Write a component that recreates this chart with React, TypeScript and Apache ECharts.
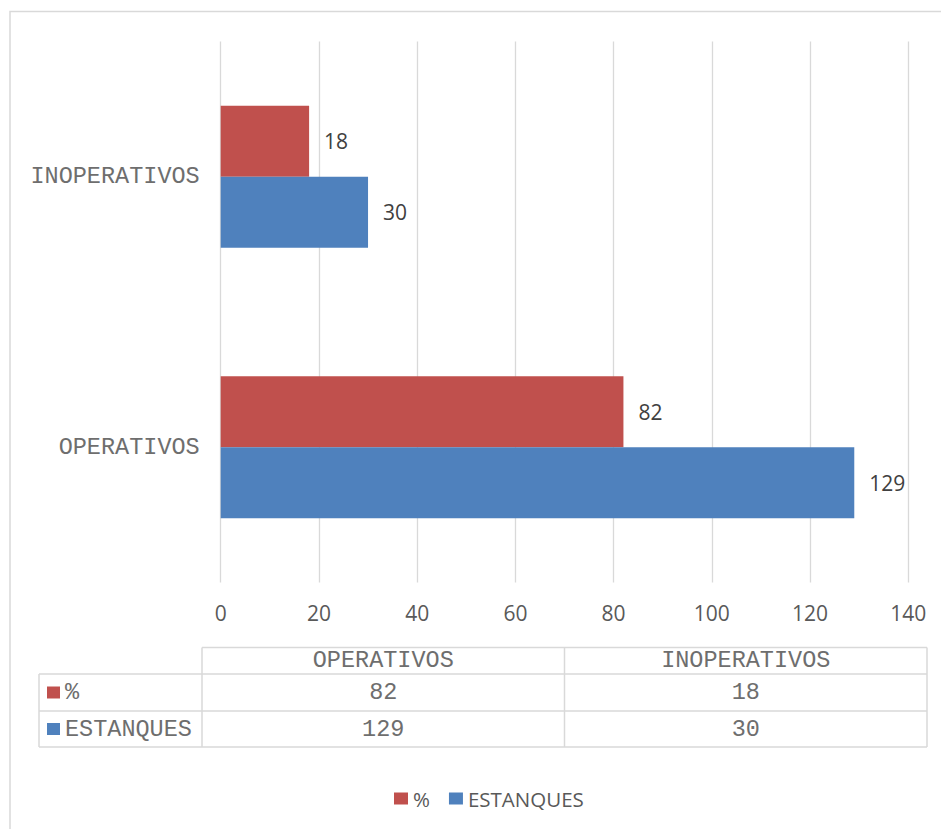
import React, { useEffect, useRef } from "react";
import * as echarts from "echarts";

const categories = ["OPERATIVOS", "INOPERATIVOS"];
const seriesNames = ["%", "ESTANQUES"];
const pctValues = [82, 18];
const estanquesValues = [129, 30];
const seriesColors = ["#C0504D", "#4F81BD"];
const xMin = 0;
const xMax = 140;
const xInterval = 20;

const MONO = "'Liberation Mono', 'Courier New', monospace";
const SANS = "'Open Sans', 'Noto Sans', sans-serif";
const MONO_COLOR = "#6E6E6E";

export default function App() {
  const ref = useRef<HTMLDivElement>(null);
  useEffect(() => {
    if (!ref.current) return;
    const chart = echarts.init(ref.current, null, { renderer: "svg" });
    const allValues = [pctValues, estanquesValues];

    // table layout
    const tLeft = 39;
    const tLabelRight = 202;
    const tRight = 927;
    const rowYs = [647.5, 674, 711, 747];
    const colW = (tRight - tLabelRight) / categories.length;
    const lineStyle = { stroke: "#D9D9D9", lineWidth: 1.5 };
    const graphics: any[] = [];
    graphics.push({
      type: "rect",
      shape: { x: 10, y: 11.5, width: 1000, height: 1000 },
      style: { fill: "none", stroke: "#D9D9D9", lineWidth: 1.5 },
      silent: true,
    });
    graphics.push({ type: "line", shape: { x1: tLabelRight, y1: rowYs[0], x2: tRight, y2: rowYs[0] }, style: lineStyle });
    for (let i = 1; i < rowYs.length; i++) {
      graphics.push({ type: "line", shape: { x1: tLeft, y1: rowYs[i], x2: tRight, y2: rowYs[i] }, style: lineStyle });
    }
    graphics.push({ type: "line", shape: { x1: tLeft, y1: rowYs[1], x2: tLeft, y2: rowYs[3] }, style: lineStyle });
    for (let c = 0; c <= categories.length; c++) {
      const x = tLabelRight + c * colW;
      graphics.push({ type: "line", shape: { x1: x, y1: rowYs[0], x2: x, y2: rowYs[3] }, style: lineStyle });
    }
    const txt = (text: string, x: number, y: number, align: string) => ({
      type: "text",
      style: {
        text,
        x,
        y,
        fill: MONO_COLOR,
        fontSize: 23.5,
        fontFamily: MONO,
        align,
        verticalAlign: "middle",
        textAlign: align,
        textVerticalAlign: "middle",
      },
    });
    categories.forEach((c, ci) => {
      graphics.push(txt(c, tLabelRight + colW * (ci + 0.5), (rowYs[0] + rowYs[1]) / 2, "center"));
    });
    seriesNames.forEach((s, si) => {
      const cy = (rowYs[si + 1] + rowYs[si + 2]) / 2;
      graphics.push({
        type: "rect",
        shape: { x: 47, y: cy - 6, width: 13, height: 12 },
        style: { fill: seriesColors[si] },
      });
      graphics.push(txt(s, 65, cy, "left"));
      categories.forEach((c, ci) => {
        graphics.push(txt(String(allValues[si][ci]), tLabelRight + colW * (ci + 0.5), cy, "center"));
      });
    });

    const labelCfg = {
      show: true,
      position: "right",
      distance: 15,
      fontFamily: SANS,
      fontSize: 21,
      color: "#404040",
    };

    chart.setOption({
      animation: false,
      grid: { left: 220.7, right: 32.7, top: 41.5, height: 541, containLabel: false },
      legend: {
        data: seriesNames,
        left: 389,
        top: 783,
        icon: "rect",
        itemWidth: 14,
        itemHeight: 12,
        itemGap: 19,
        textStyle: { fontFamily: SANS, fontSize: 20.5, color: "#595959" },
      },
      xAxis: {
        type: "value",
        min: xMin,
        max: xMax,
        interval: xInterval,
        axisLine: { show: false },
        axisTick: { show: false },
        splitLine: { show: true, lineStyle: { color: "#D9D9D9", width: 1.3 } },
        axisLabel: { fontFamily: SANS, fontSize: 21, color: "#595959", margin: 20 },
      },
      yAxis: {
        type: "category",
        data: categories,
        axisLine: { show: false },
        axisTick: { show: false },
        axisLabel: { fontFamily: MONO, fontSize: 23.5, color: MONO_COLOR, margin: 21 },
      },
      series: [
        {
          name: seriesNames[0],
          type: "bar",
          data: pctValues,
          barWidth: 71,
          barGap: "0%",
          itemStyle: { color: seriesColors[0] },
          label: labelCfg,
        },
        {
          name: seriesNames[1],
          type: "bar",
          data: estanquesValues,
          barWidth: 71,
          barGap: "0%",
          itemStyle: { color: seriesColors[1] },
          label: labelCfg,
        },
      ],
      graphic: graphics,
    });
    return () => chart.dispose();
  }, []);
  return (
    <div
      ref={ref}
      style={{ position: "absolute", left: 0, top: 0, width: 941, height: 829, background: "#fff" }}
    />
  );
}
